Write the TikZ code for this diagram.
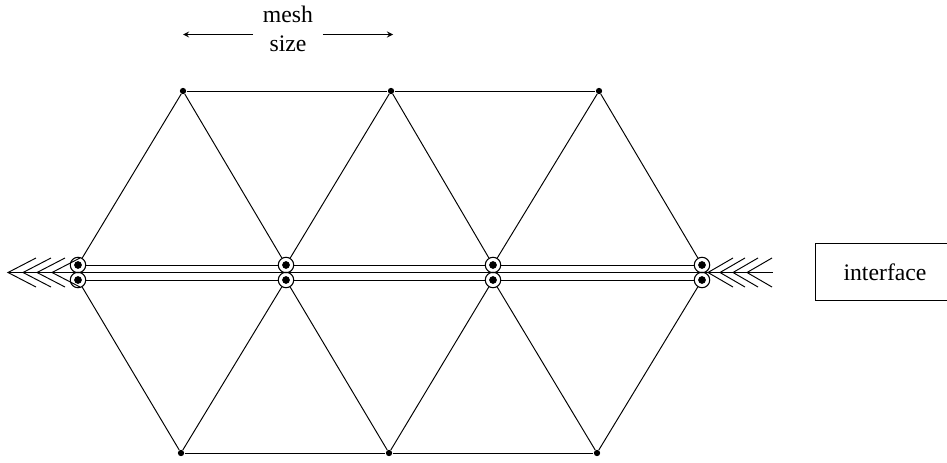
\documentclass[tikz,border=0pt]{standalone}
\usepackage{fontspec}
\setmainfont{Liberation Serif}
\usetikzlibrary{arrows.meta, positioning, calc}

\begin{document}
\begin{tikzpicture}[
        x=0.02cm, y=-0.02cm,
        vertex/.style={fill, circle, inner sep=0pt, minimum size=3.6pt},
        core/.style={fill, circle, inner sep=0pt, minimum size=4.4pt},
        ring/.style={draw, circle, inner sep=0pt, minimum size=8.8pt, line width=0.6pt},
        edge/.style={line width=0.55pt},
        size/.style={-stealth, line width=0.55pt},
        label/.style={font=\fontsize{13.5}{16.5}\selectfont}
    ]
        \useasboundingbox (0,0) rectangle (947,463);
        % vertices away from the interface
        \node[vertex] (t1) at (183,91) {}; \node[vertex] (t2) at (391,91) {}; \node[vertex] (t3) at (599,91) {};
        \node[vertex] (b1) at (181,453) {}; \node[vertex] (b2) at (389,453) {}; \node[vertex] (b3) at (597,453) {};
        % doubled vertices on the interface
        \foreach \i/\x in {1/78, 2/286, 3/493, 4/702} {
            \node[ring] (u\i) at (\x,265) {}; \node[core] at (u\i) {};
            \node[ring] (l\i) at (\x,280) {}; \node[core] at (l\i) {};
        }
        % mesh
        \draw[edge] (t1)--(t2)--(t3);
        \draw[edge] (b1)--(b2)--(b3);
        \draw[edge] (u1)--(t1)--(u2)--(t2)--(u3)--(t3)--(u4);
        \draw[edge] (l1)--(b1)--(l2)--(b2)--(l3)--(b3)--(l4);
        \draw[edge] (u1)--(u2)--(u3)--(u4);
        \draw[edge] (l1)--(l2)--(l3)--(l4);
        % interface line, feathered at both ends
        \coordinate (il) at (8,272.5); \coordinate (ir) at (773,272.5);
        \draw[line width=0.8pt] (il)--(ir);
        \foreach \x in {8, 23, 37, 52} \draw[edge] (\x+28,258)--(\x,272.5)--(\x+28,287);
        \foreach \x in {708, 720, 733, 747} \draw[edge] (\x+25,258)--(\x,272.5)--(\x+25,287);
        % mesh size
        \node[label, align=center, minimum width=1.38cm, inner sep=0pt] (mesh) at (288,28.5) {mesh\\size};
        \coordinate (sl) at (183,34.5); \coordinate (sr) at (393,34.5);
        \draw[size] (mesh.west |- sl)--(sl);
        \draw[size] (mesh.east |- sr)--(sr);
        % legend, running off the page
        \node[label] (interface) at (885,272) {interface};
        \draw[edge] (947,243)--(815,243)--(815,300)--(947,300);
    \end{tikzpicture}
\end{document}
